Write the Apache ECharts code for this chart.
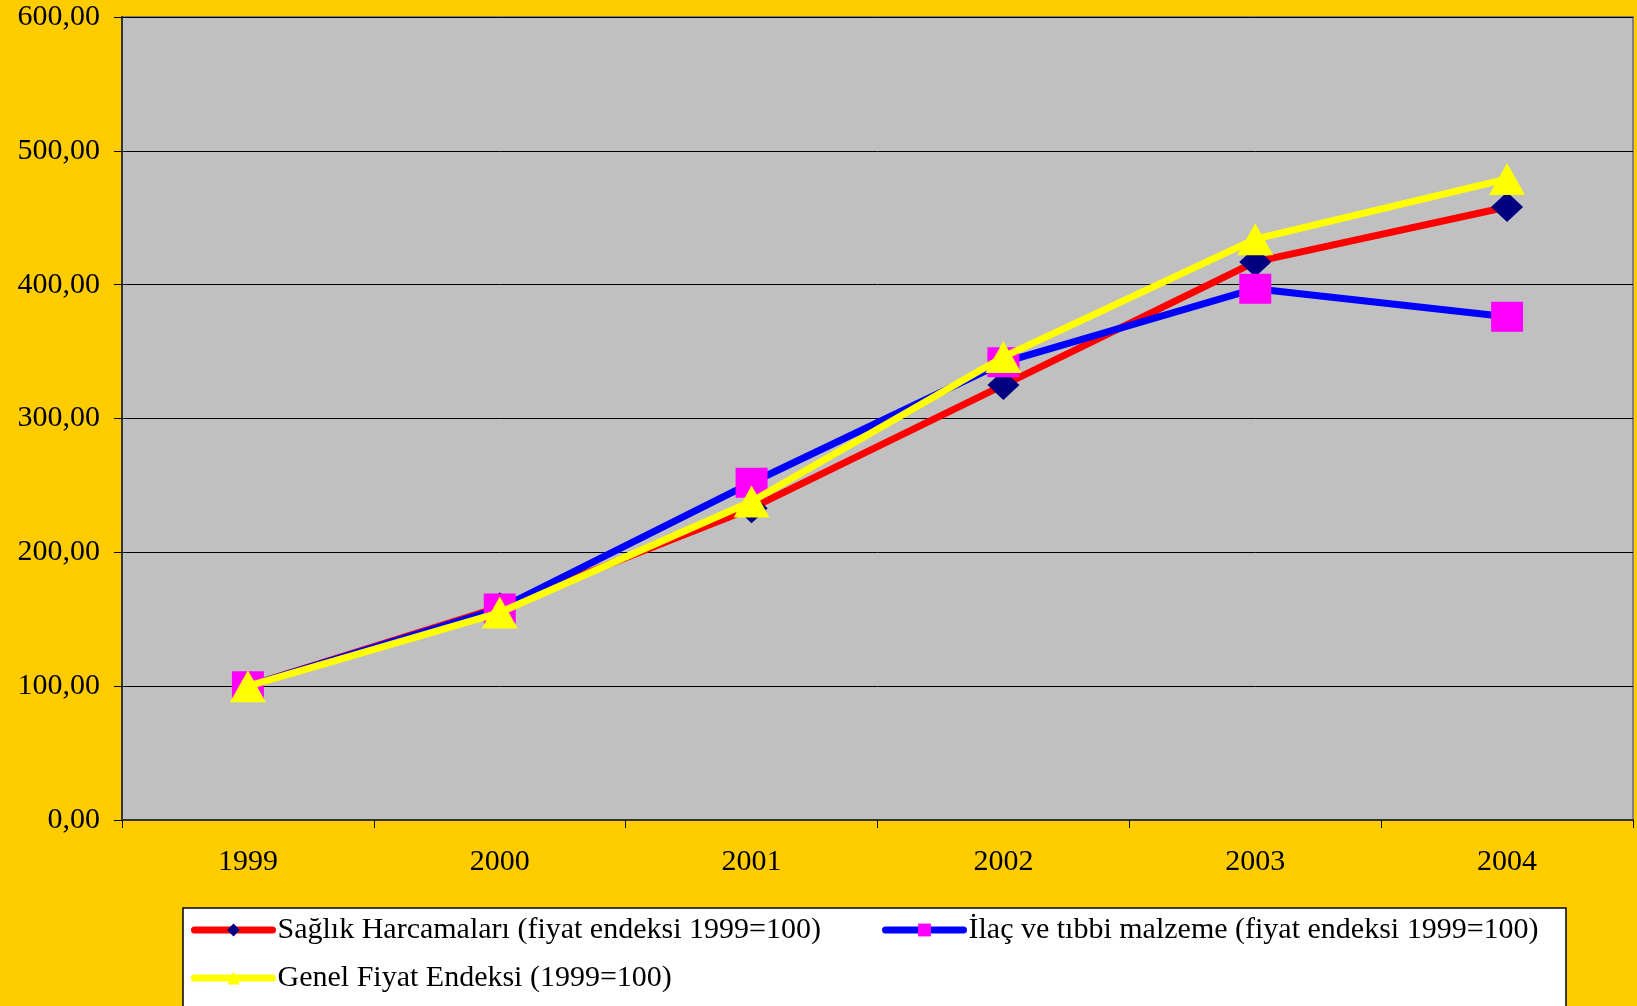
<!DOCTYPE html>
<html>
<head>
<meta charset="utf-8">
<script src="https://cdn.jsdelivr.net/npm/echarts@6/dist/echarts.min.js"></script>
<style>
  html, body { margin: 0; padding: 0; background: #FFCC00; }
  #container { width: 1637px; height: 1006px; }
</style>
</head>
<body>
<div id="container"></div>
<script>
var years = ['1999', '2000', '2001', '2002', '2003', '2004'];
var saglik = [100, 159, 233, 325, 417, 458];
var ilac = [100, 158, 252, 342, 397, 376];
var genel = [100, 155, 238, 346, 434, 479];

var nameSaglik = 'Sağlık Harcamaları (fiyat endeksi 1999=100)';
var nameIlac = 'İlaç ve tıbbi malzeme (fiyat endeksi 1999=100)';
var nameGenel = 'Genel Fiyat Endeksi (1999=100)';

var serif = '"Liberation Serif", "Times New Roman", serif';

var dom = document.getElementById('container');
var myChart = echarts.init(dom);

function legendAt(name, left, top) {
    return {
        data: [name],
        left: left,
        top: top,
        itemWidth: 78,
        itemHeight: 16,
        itemGap: 0,
        padding: 0,
        selectedMode: false,
        lineStyle: { width: 7, cap: 'round' },
        textStyle: { fontFamily: serif, fontSize: 30, color: '#000', padding: [0, 0, 0, 0] }
    };
}

var option = {
    backgroundColor: '#FFCC00',
    animation: false,
    graphic: [{
        type: 'rect',
        shape: { x: 183, y: 908, width: 1383, height: 110 },
        style: { fill: '#FFFFFF', stroke: '#000', lineWidth: 1.5 },
        z: -1
    }],
    legend: [
        legendAt(nameSaglik, 191, 915),
        legendAt(nameIlac, 882, 915),
        legendAt(nameGenel, 191, 963)
    ],
    grid: {
        left: 122,
        top: 17,
        right: 4,
        bottom: 186,
        show: true,
        backgroundColor: '#C0C0C0',
        borderColor: '#808080',
        borderWidth: 2
    },
    xAxis: {
        type: 'category',
        data: years,
        boundaryGap: true,
        axisLine: { lineStyle: { color: '#333', width: 2 } },
        axisTick: { show: true, length: 8, lineStyle: { color: '#000' } },
        axisLabel: { fontFamily: serif, fontSize: 30, color: '#000', margin: 27 }
    },
    yAxis: {
        type: 'value',
        min: 0,
        max: 600,
        interval: 100,
        axisLine: { show: true, lineStyle: { color: '#333', width: 2 } },
        axisTick: { show: true, length: 8, lineStyle: { color: '#000' } },
        splitLine: { lineStyle: { color: '#000', width: 1 } },
        axisLabel: {
            fontFamily: serif, fontSize: 30, color: '#000', margin: 22,
            formatter: function (v) { return v.toFixed(2).replace('.', ','); }
        }
    },
    series: [
        {
            name: nameSaglik,
            type: 'line',
            data: saglik,
            symbol: 'diamond',
            symbolSize: [32, 30],
            lineStyle: { color: '#FF0000', width: 7 },
            itemStyle: { color: '#000080' },
            z: 2
        },
        {
            name: nameIlac,
            type: 'line',
            data: ilac,
            symbol: 'rect',
            symbolSize: [32, 30],
            lineStyle: { color: '#0000FF', width: 7 },
            itemStyle: { color: '#FF00FF' },
            z: 3
        },
        {
            name: nameGenel,
            type: 'line',
            data: genel,
            symbol: 'triangle',
            symbolSize: [36, 32],
            lineStyle: { color: '#FFFF00', width: 7 },
            itemStyle: { color: '#FFFF00' },
            z: 4
        }
    ]
};

if (option && typeof option === 'object') {
    myChart.setOption(option, true);
}
</script>
</body>
</html>
